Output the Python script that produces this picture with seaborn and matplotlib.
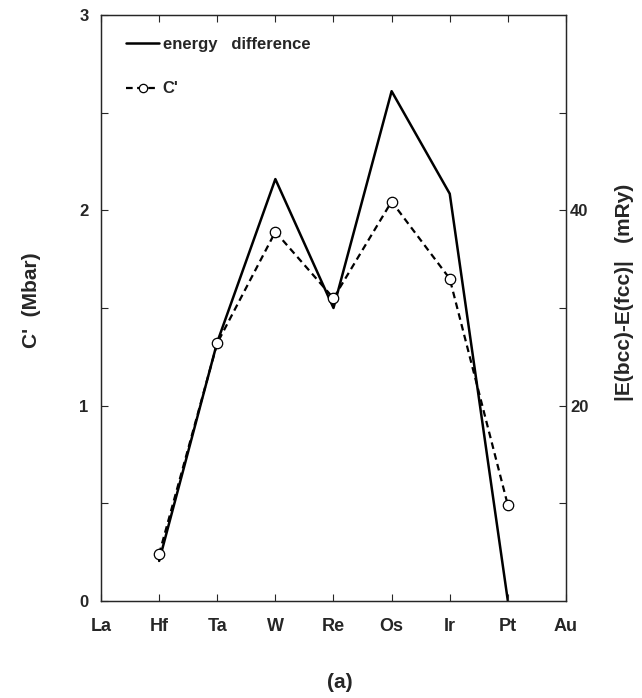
import numpy as np
import pandas as pd
import matplotlib
matplotlib.use('Agg')
import matplotlib.pyplot as plt
import seaborn as sns

# ================= data =================
elements = ['La', 'Hf', 'Ta', 'W', 'Re', 'Os', 'Ir', 'Pt', 'Au']
metals = ['Hf', 'Ta', 'W', 'Re', 'Os', 'Ir', 'Pt']
c_prime = [0.24, 1.32, 1.89, 1.55, 2.045, 1.65, 0.49]        # C' (Mbar)
energy_diff = [4.1, 26.5, 43.2, 30.0, 52.2, 41.7, 0.0]       # |E(bcc)-E(fcc)| (mRy)

left_major = [0, 1, 2, 3]
left_minor = [0.5, 1.5, 2.5]
right_major = [20, 40]
right_minor = [10, 30, 50]

# ================= style =================
sns.set_theme(style='ticks')
plt.rcParams['font.family'] = ['Liberation Sans', 'DejaVu Sans']
plt.rcParams['font.weight'] = 'bold'
plt.rcParams['axes.labelweight'] = 'bold'
plt.rcParams['axes.linewidth'] = 0.9

df = pd.DataFrame({
    'metal': metals,
    'pos': [elements.index(m) for m in metals],
    'C': c_prime,
    'E': energy_diff,
})

fig = plt.figure(figsize=(6.42, 6.98), dpi=100)
ax = fig.add_axes([0.1573, 0.139, 0.7243, 0.8395])
ax2 = ax.twinx()

# energy difference on right axis (drawn under C')
sns.lineplot(data=df, x='pos', y='E', ax=ax2, color='black', lw=1.8, legend=False)
# C' on left axis
sns.lineplot(data=df, x='pos', y='C', ax=ax, color='black', lw=1.6, ls=(0, (3, 2)),
             marker='o', markersize=7.5, markerfacecolor='white',
             markeredgecolor='black', markeredgewidth=0.9, legend=False)

ax.set_zorder(ax2.get_zorder() + 1)
ax.patch.set_visible(False)

# ================= axes =================
ax.set_xlim(0, 8)
ax.set_xticks(range(len(elements)))
ax.set_xticklabels(elements)
ax.set_ylim(0, 3)
ax.set_yticks(left_major)
ax.set_yticks(left_minor, minor=True)
ax.set_xlabel('')
ax.set_ylabel("C'  (Mbar)", fontsize=15)
ax.yaxis.set_label_coords(-0.13, 0.514)
ax.tick_params(axis='x', which='both', direction='in', top=True, length=5, width=0.8,
               labelsize=13, pad=12)
ax.tick_params(axis='y', which='both', direction='in', length=5, width=0.8,
               labelsize=12, pad=9)

ax2.set_ylim(0, 60)
ax2.set_yticks(right_major)
ax2.set_yticks(right_minor, minor=True)
ax2.set_ylabel('|E(bcc)-E(fcc)|   (mRy)', fontsize=15)
ax2.yaxis.set_label_coords(1.105, 0.527)
ax2.tick_params(axis='y', which='both', direction='in', length=5, width=0.8,
                labelsize=12, pad=3)

# ================= legend =================
h_e = ax2.lines[0]
h_c = ax.lines[0]
ax.legend([h_e, h_c], ['energy   difference', "C'"], loc='upper left',
          bbox_to_anchor=(0.054, 0.962), borderaxespad=0, borderpad=0,
          frameon=False, fontsize=12, handlelength=2.0, handletextpad=0.2,
          labelspacing=1.75, markerscale=0.8)

fig.text(340 / 642, 1 - 682 / 698, '(a)', ha='center', va='center', fontsize=15,
         fontweight='bold')

plt.savefig('out.png', dpi=100)
